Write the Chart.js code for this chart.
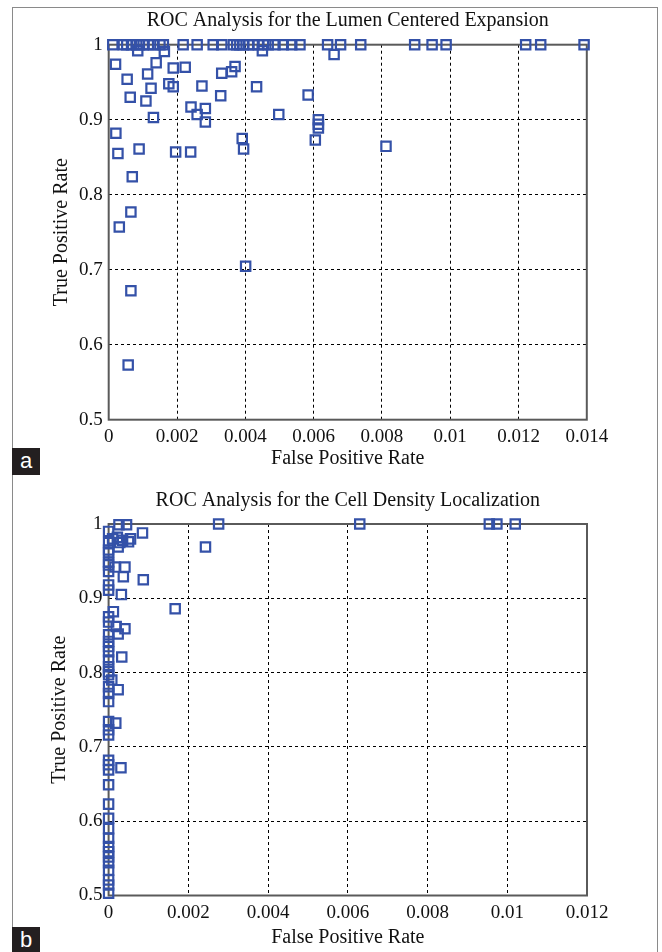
<!DOCTYPE html>
<html><head><meta charset="utf-8">
<script src="https://cdn.jsdelivr.net/npm/chart.js@4/dist/chart.umd.min.js"></script>
<style>
html,body{margin:0;padding:0;background:#fff;}
#wrap{position:relative;width:662px;height:952px;overflow:hidden;background:#fff;}
#frame{position:absolute;left:12px;top:7px;width:644px;height:960px;border:1px solid #8a8a8a;}
canvas{position:absolute;left:0;}
#ca{top:0}#cb{top:476px}
.lab{position:absolute;left:12px;width:28px;background:#231f20;color:#fff;font-family:'Liberation Sans',Arial,sans-serif;font-size:22px;line-height:26px;text-align:center;}
</style></head>
<body>
<div id="wrap">
<div id="frame"></div>
<canvas id="ca" width="662" height="476"></canvas>
<canvas id="cb" width="662" height="476"></canvas>
<div class="lab" style="top:448px;height:27px;">a</div>
<div class="lab" style="top:927px;height:25px;">b</div>
</div>
<script>
// ---- Panel a: Lumen Centered Expansion ----
const titleA = 'ROC Analysis for the Lumen Centered Expansion';
const fprA = [
 0.00012,0.00043,0.00053,0.00067,0.00082,0.0009,0.00101,0.00116,0.00131,0.0015,0.0016,0.00218,0.00259,0.00306,0.00331,
 0.00365,0.00375,0.00384,0.00394,0.00409,0.00423,0.00438,0.00453,0.00467,0.00487,0.00511,0.00536,0.0056,0.00641,0.00679,
 0.00738,0.00896,0.00947,0.00988,0.01221,0.01265,0.01392,
 0.00085,0.00163,0.0002,0.00139,0.00114,0.00189,0.00224,0.00054,0.00176,0.00189,0.00124,0.00273,0.00331,0.0036,0.0037,
 0.0045,0.00433,0.00328,0.00584,0.0066,0.00063,0.00109,0.00241,0.00283,0.00259,0.00283,0.00131,0.00498,0.00614,0.00614,
 0.00614,0.00605,0.00021,0.00391,0.00395,0.00027,0.00089,0.00196,0.0024,0.00069,0.00812,0.00065,0.00031,0.00401,0.00065,0.00057
];
const tprA = [
 1,1,1,1,1,1,1,1,1,1,1,1,1,1,1,
 1,1,1,1,1,1,1,1,1,1,1,1,1,1,1,
 1,1,1,1,1,1,1,
 0.992,0.991,0.974,0.976,0.961,0.969,0.970,0.954,0.948,0.944,0.942,0.945,0.962,0.964,0.971,
 0.992,0.944,0.932,0.933,0.987,0.930,0.925,0.917,0.915,0.907,0.897,0.903,0.907,0.900,0.894,
 0.889,0.873,0.882,0.875,0.861,0.855,0.861,0.857,0.857,0.824,0.8645,0.777,0.757,0.7045,0.672,0.573
];
const xTicksA = ['0','0.002','0.004','0.006','0.008','0.01','0.012','0.014'];

// ---- Panel b: Cell Density Localization ----
const titleB = 'ROC Analysis for the Cell Density Localization';
const fprB = [
 0.00026,0.00045,0.00276,0.0063,0.00955,0.00974,0.0102,
 0.00085,0,0.0001,0.00022,0.00035,0.0005,0.00055,0.00028,0,0,0.00024,0,0.00243,
 0,0,0,0.00016,0.00041,0.00037,0.00087,0,0,0.00032,0.00167,0.00012,0,0,0.00019,
 0.00041,0.00024,0,0,0,0,0.00033,0,0,0,0,0.00008,0.00024,0,0,0,
 0,0.00018,0,0,0,0,0.00031,0,0,0,0,0,0,0,0,0,0,0,0,0,0
];
const tprB = [
 0.999,0.999,1,1,1,1,1,
 0.988,0.99,0.98,0.982,0.978,0.976,0.98,0.975,0.975,0.965,0.969,0.961,0.969,
 0.949,0.945,0.936,0.942,0.942,0.929,0.925,0.918,0.911,0.905,0.886,0.882,0.875,0.868,0.862,
 0.859,0.852,0.851,0.842,0.835,0.828,0.821,0.817,0.808,0.801,0.797,0.79,0.777,0.781,0.772,0.761,
 0.734,0.732,0.723,0.716,0.682,0.676,0.672,0.669,0.649,0.623,0.604,0.590,0.577,0.566,0.559,0.552,0.544,0.534,0.521,0.514,0.503
];
const xTicksB = ['0','0.002','0.004','0.006','0.008','0.01','0.012'];

const yTicks = ['0.5','0.6','0.7','0.8','0.9','1'];
const yTitle = 'True Positive Rate';
const xTitle = 'False Positive Rate';

const SERIF = '"Liberation Serif","Times New Roman",serif';
const BLUE = '#3451a8';

const framePlugin = {
  id: 'frameTitle',
  beforeDatasetsDraw(chart, args, opts) {
    const {ctx, chartArea: a} = chart;
    ctx.save();
    ctx.setLineDash([]);
    ctx.strokeStyle = '#5a5a5a';
    ctx.lineWidth = 2;
    ctx.strokeRect(a.left, a.top, a.right - a.left, a.bottom - a.top);
    ctx.restore();
  },
  afterDraw(chart, args, opts) {
    const {ctx, chartArea: a} = chart;
    ctx.save();
    ctx.font = '20px ' + SERIF;
    ctx.fillStyle = '#111';
    ctx.textAlign = 'center';
    ctx.textBaseline = 'middle';
    ctx.fillText(opts.text, (a.left + a.right) / 2, opts.y);
    ctx.restore();
  }
};

function makeChart(id, fpr, tpr, xTicks, xMax, title, cfg) {
  const pts = fpr.map((x, i) => ({x: x, y: tpr[i]}));
  return new Chart(document.getElementById(id), {
    type: 'scatter',
    data: {datasets: [{
      data: pts,
      pointStyle: 'rect',
      pointRadius: 6.6,
      pointBorderWidth: 2.2,
      borderColor: BLUE,
      backgroundColor: 'rgba(255,255,255,0)',
      clip: false
    }]},
    plugins: [framePlugin],
    options: {
      responsive: false,
      animation: false,
      events: [],
      layout: {padding: {left: 0, right: cfg.right, top: cfg.top, bottom: 0}},
      plugins: {
        legend: {display: false},
        tooltip: {enabled: false},
        frameTitle: {text: title, y: cfg.titleY}
      },
      scales: {
        x: {
          type: 'linear', min: 0, max: xMax,
          afterFit(s) { s.height = cfg.xh; },
          ticks: {stepSize: 0.002, padding: 6, color: '#111', font: {family: SERIF, size: 19},
                  callback: (v, i) => xTicks[i]},
          grid: {color: '#000', lineWidth: 1, drawTicks: false},
          border: {display: false, dash: [3, 3]},
          title: {display: true, text: xTitle, color: '#111', font: {family: SERIF, size: 20},
                  padding: {top: 0, bottom: cfg.xtPad}}
        },
        y: {
          type: 'linear', min: 0.5, max: 1,
          afterFit(s) { s.width = cfg.yw; },
          ticks: {stepSize: 0.1, padding: 6, color: '#111', font: {family: SERIF, size: 19},
                  callback: (v, i) => yTicks[i]},
          grid: {color: '#000', lineWidth: 1, drawTicks: false},
          border: {display: false, dash: [3, 3]},
          title: {display: true, text: yTitle, color: '#111', font: {family: SERIF, size: 20},
                  padding: {top: cfg.ytPad, bottom: 0}}
        }
      }
    }
  });
}

makeChart('ca', fprA, tprA, xTicksA, 0.014, titleA,
  {right: 75.2, top: 44.7, xh: 56.3, yw: 108.7, titleY: 21, xtPad: 5, ytPad: 50});
makeChart('cb', fprB, tprB, xTicksB, 0.012, titleB,
  {right: 75, top: 48, xh: 56.5, yw: 108.6, titleY: 25, xtPad: 2, ytPad: 48});
</script>
</body></html>
